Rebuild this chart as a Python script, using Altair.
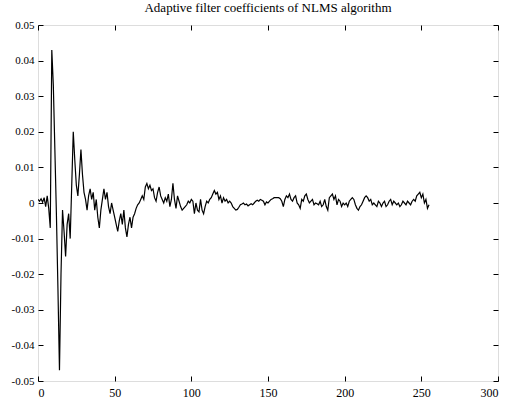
import altair as alt
import pandas as pd

title_text = "Adaptive filter coefficients of NLMS algorithm"

coef = [
    0.0010, 0.0005, 0.0012, 0.0002, 0.0015, -0.0010, 0.0020, -0.0015, -0.0070, 0.0430,
    0.0330, 0.0150, -0.0030, -0.0240, -0.0470, -0.0200, -0.0020, -0.0080, -0.0150, -0.0060,
    -0.0030, -0.0100, 0.0050, 0.0200, 0.0120, 0.0050, 0.0020, 0.0080, 0.0150, 0.0080,
    0.0030, 0.0010, -0.0020, 0.0020, 0.0040, 0.0010, 0.0030, -0.0020, 0.0010, -0.0040,
    -0.0070, -0.0020, 0.0010, 0.0040, 0.0010, 0.0030, -0.0010, -0.0030, 0.0000, -0.0020,
    -0.0040, -0.0060, -0.0080, -0.0050, -0.0030, -0.0060, -0.0020, -0.0070, -0.0095, -0.0060,
    -0.0040, -0.0070, -0.0040, -0.0030, -0.0015, -0.0005, 0.0000, 0.0010, 0.0020, 0.0010,
    0.0045, 0.0055, 0.0040, 0.0050, 0.0035, 0.0040, 0.0015, 0.0005, 0.0030, 0.0045,
    0.0020, 0.0010, 0.0000, 0.0015, 0.0005, 0.0025, -0.0010, 0.0010, 0.0055, 0.0010,
    -0.0015, 0.0020, 0.0005, -0.0010, -0.0020, -0.0015, -0.0010, -0.0005, 0.0005, 0.0000,
    0.0010, 0.0005, -0.0030, 0.0000, -0.0020, -0.0025, 0.0010, -0.0020, -0.0030, -0.0010,
    0.0005, 0.0000, 0.0010, 0.0015, 0.0025, 0.0035, 0.0025, 0.0030, 0.0010, 0.0020,
    0.0000, 0.0015, 0.0005, 0.0010, 0.0000, 0.0005, 0.0000, -0.0010, -0.0015, -0.0020,
    -0.0018, -0.0012, -0.0005, -0.0003, 0.0000, -0.0005, -0.0003, -0.0008, -0.0005, -0.0002,
    -0.0005, 0.0000, 0.0005, 0.0008, 0.0005, 0.0010, 0.0008, 0.0005, -0.0005, 0.0003,
    0.0000, 0.0005, 0.0010, 0.0012, 0.0015, 0.0015, 0.0015, 0.0015, 0.0012, 0.0005,
    -0.0010, 0.0010, 0.0020, 0.0015, 0.0025, 0.0010, 0.0005, 0.0015, 0.0020, 0.0000,
    -0.0005, -0.0015, 0.0010, 0.0005, 0.0020, 0.0025, 0.0010, 0.0000, 0.0005, 0.0010,
    -0.0005, 0.0000, -0.0002, -0.0005, 0.0005, -0.0010, -0.0005, 0.0010, -0.0010, -0.0020,
    0.0015, 0.0020, 0.0025, 0.0010, 0.0020, -0.0005, 0.0010, 0.0005, -0.0010, 0.0000,
    -0.0005, 0.0000, -0.0010, 0.0005, 0.0010, 0.0015, 0.0010, -0.0005, -0.0015, -0.0020,
    -0.0010, -0.0005, 0.0005, 0.0015, 0.0020, 0.0015, 0.0005, 0.0010, -0.0005, 0.0000,
    -0.0005, -0.0010, 0.0005, 0.0000, -0.0010, 0.0000, 0.0005, -0.0010, -0.0005, 0.0005,
    0.0010, -0.0005, 0.0005, 0.0000, -0.0005, 0.0000, -0.0010, -0.0005, 0.0005, 0.0000,
    -0.0005, 0.0005, 0.0000, -0.0005, 0.0005, 0.0010, 0.0005, 0.0020, 0.0025, 0.0030,
    0.0015, 0.0025, 0.0000, 0.0010, -0.0015, -0.0005,
]
index = list(range(len(coef)))

x_ticks = [0, 50, 100, 150, 200, 250, 300]
y_ticks = [-0.05, -0.04, -0.03, -0.02, -0.01, 0.0, 0.01, 0.02, 0.03, 0.04, 0.05]

df = pd.DataFrame({"n": index, "w": coef})

FONT = "Liberation Serif"
x_scale = alt.Scale(domain=[0, 300], nice=False, zero=False)
y_scale = alt.Scale(domain=[-0.05, 0.05], nice=False, zero=False)

tick_style = dict(
    title=None, grid=True, gridDash=[5, 2000], gridColor="black", gridOpacity=1,
    gridWidth=1, ticks=False, domain=False,
)

line = (
    alt.Chart(df)
    .mark_line(color="black", strokeWidth=1.2, clip=True)
    .encode(
        x=alt.X("n:Q", scale=x_scale,
                axis=alt.Axis(values=x_ticks, orient="bottom", labelPadding=6,
                              labelFont=FONT, labelFontSize=12, labelColor="black",
                              **tick_style)),
        y=alt.Y("w:Q", scale=y_scale,
                axis=alt.Axis(values=y_ticks, orient="left", labelPadding=4,
                              labelFont=FONT, labelFontSize=11, labelColor="black",
                              labelExpr="abs(datum.value) < 1e-9 ? '0' : replace(format(datum.value, '.2f'), '\u2212', '-')",
                              **tick_style)),
    )
)

mirror = (
    alt.Chart(df)
    .mark_line(opacity=0)
    .encode(
        x=alt.X("n:Q", scale=x_scale,
                axis=alt.Axis(values=x_ticks, orient="top", labels=False, **tick_style)),
        y=alt.Y("w:Q", scale=y_scale,
                axis=alt.Axis(values=y_ticks, orient="right", labels=False, **tick_style)),
    )
)

chart = (
    alt.layer(line, mirror)
    .resolve_axis(x="independent", y="independent")
    .properties(
        width=460,
        height=356,
        title=alt.TitleParams(title_text, font=FONT, fontSize=13, fontWeight="normal",
                              color="black", anchor="middle", offset=4),
        autosize=alt.AutoSizeParams(type="none"),
        padding={"left": 38, "top": 25, "right": 10, "bottom": 23},
    )
    .configure_view(stroke="black", strokeWidth=1.5)
    .configure(background="white")
)

chart.save("out.html", embed_options={"renderer": "svg", "actions": False})
